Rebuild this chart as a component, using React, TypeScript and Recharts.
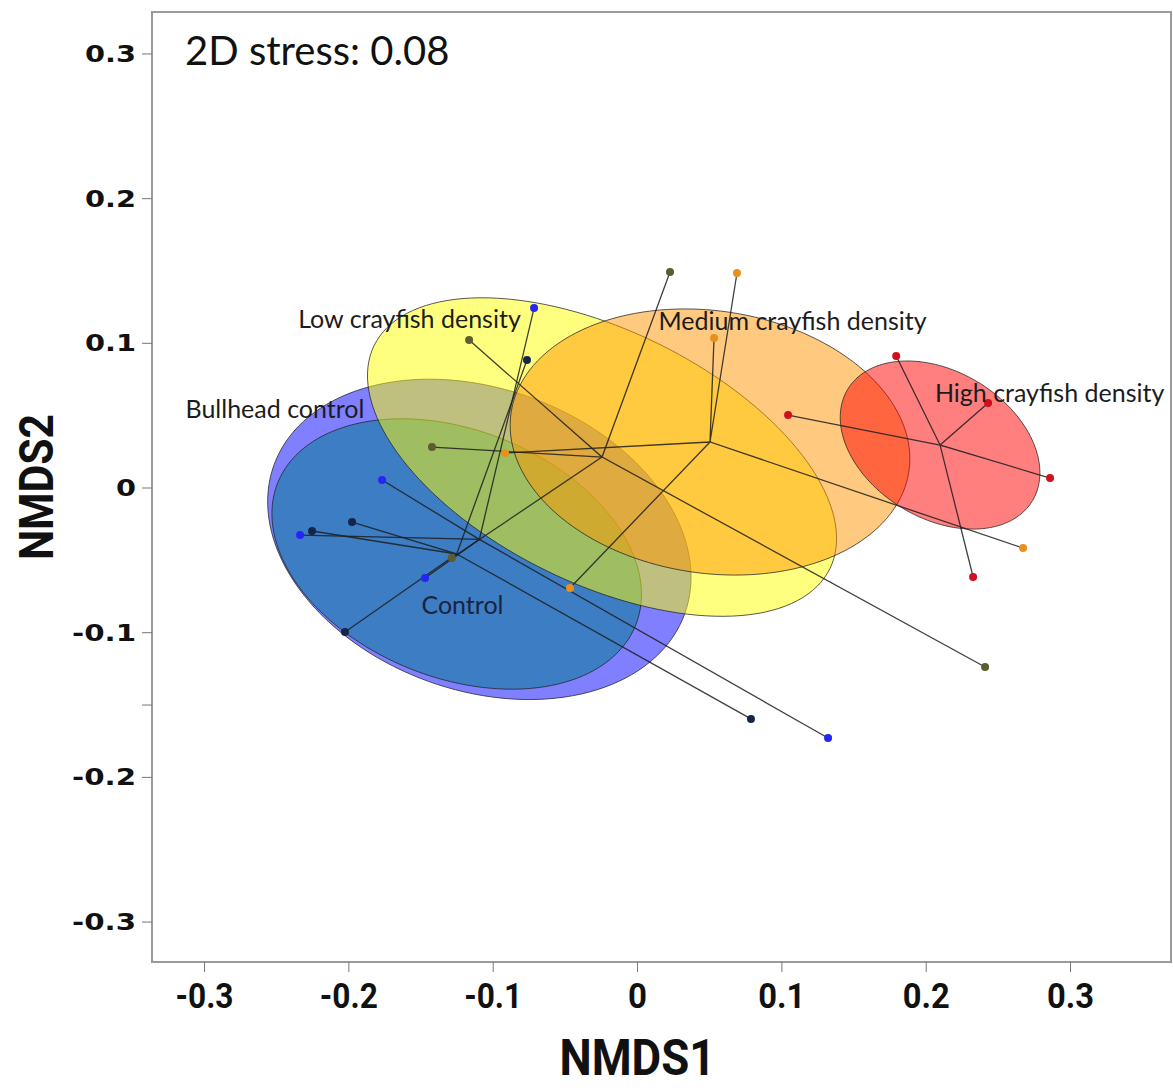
import { ScatterChart, Scatter, XAxis, YAxis, ReferenceArea } from "recharts";

// NMDS site scores per treatment
const GROUPS = [
  "Control",
  "Bullhead control",
  "Low crayfish density",
  "Medium crayfish density",
  "High crayfish density",
];

const CONTROL_PTS = [
  [-0.0766, 0.0885],
  [-0.1978, -0.0235],
  [-0.2255, -0.0297],
  [-0.2027, -0.0995],
  [0.0786, -0.1596],
];
const BULLHEAD_PTS = [
  [-0.0717, 0.1244],
  [-0.177, 0.0055],
  [-0.2338, -0.0325],
  [-0.1472, -0.0622],
  [0.132, -0.1728],
];
const LOW_PTS = [
  [0.0225, 0.1493],
  [-0.1167, 0.1023],
  [-0.1424, 0.0283],
  [0.2408, -0.1237],
  [-0.1287, -0.0484],
];
const MEDIUM_PTS = [
  [0.0689, 0.1486],
  [0.053, 0.1037],
  [-0.0918, 0.0242],
  [-0.0468, -0.0691],
  [0.2671, -0.0415],
];
const HIGH_PTS = [
  [0.1792, 0.0912],
  [0.1043, 0.0504],
  [0.2429, 0.0587],
  [0.2858, 0.0069],
  [0.2325, -0.0615],
];
const SITES = [CONTROL_PTS, BULLHEAD_PTS, LOW_PTS, MEDIUM_PTS, HIGH_PTS];

// group centres (spider hubs / ellipse centres)
const CENTROIDS = [
  [-0.1253, -0.0456],
  [-0.1096, -0.0355],
  [-0.0246, 0.0214],
  [0.0502, 0.0318],
  [0.2096, 0.0297],
];

// ellipse semi-axes and rotation (deg)
const ELLIPSES = [
  [0.1334, 0.0856, -21.5],
  [0.1513, 0.1043, -19.8],
  [0.1757, 0.0875, -26],
  [0.1393, 0.0907, -8.3],
  [0.0747, 0.0508, -31],
];

const LABEL_POS = [
  [-0.1213, -0.0802],
  [-0.2512, 0.0553],
  [-0.158, 0.1175],
  [0.1074, 0.116],
  [0.2855, 0.0663],
];

const FILLS = ["#1f7ca9", "#0000ff", "#ffff00", "#ff9600", "#ff0000"];
const FILL_OPACITY = [0.7, 0.5, 0.5, 0.5, 0.5];
const DOT_COLORS = ["#15254a", "#2525f5", "#5c5c2e", "#e8901a", "#d01020"];
const DRAW_ORDER = [1, 0, 2, 3, 4];

const X_TICKS = [-0.3, -0.2, -0.1, 0, 0.1, 0.2, 0.3];
const Y_TICKS = [-0.3, -0.2, -0.15, -0.1, 0, 0.1, 0.2, 0.3];
const X_DOMAIN = [-0.3364, 0.3696];
const Y_DOMAIN = [-0.3276, 0.329];

const STRESS = { text: "2D stress: 0.08", x: -0.3135, y: 0.3027 };

function ellipsePoints(c: number[], e: number[]) {
  const phi = (e[2] * Math.PI) / 180;
  const pts = [];
  for (let i = 0; i < 144; i++) {
    const t = (i / 144) * 2 * Math.PI;
    pts.push({
      x: c[0] + e[0] * Math.cos(t) * Math.cos(phi) - e[1] * Math.sin(t) * Math.sin(phi),
      y: c[1] + e[0] * Math.cos(t) * Math.sin(phi) + e[1] * Math.sin(t) * Math.cos(phi),
    });
  }
  return pts;
}

function spokes(c: number[], pts: number[][]) {
  return pts.flatMap((p) => [
    { x: c[0], y: c[1] },
    { x: p[0], y: p[1] },
  ]);
}

const Empty = () => <g />;

const Y_CHAR_W: Record<string, number> = { "-": 13, ".": 11 };
const X_CHAR_W: Record<string, number> = { "-": 11, ".": 9 };

function YTick({ x, y, payload }: any) {
  const v = payload.value;
  if (v === -0.15) return <g />;
  const s = String(v);
  const w = [...s].reduce((sum, ch) => sum + (Y_CHAR_W[ch] ?? 20), 0);
  return (
    <text
      x={x}
      y={y}
      textAnchor="end"
      dominantBaseline="central"
      fontFamily="DejaVu Sans"
      fontWeight="bold"
      fontSize={23}
      fill="#111"
      textLength={w}
      lengthAdjust="spacingAndGlyphs"
    >
      {s}
    </text>
  );
}

function XTick({ x, y, payload }: any) {
  const s = String(payload.value);
  const w = [...s].reduce((sum, ch) => sum + (X_CHAR_W[ch] ?? 19), 0);
  return (
    <text
      x={x}
      y={y + 14}
      textAnchor="middle"
      dominantBaseline="central"
      fontFamily="Roboto"
      fontWeight="bold"
      fontSize={35}
      fill="#111"
      textLength={w}
      lengthAdjust="spacingAndGlyphs"
    >
      {s}
    </text>
  );
}

export default function App() {
  const labelData = GROUPS.map((g, i) => ({
    x: LABEL_POS[i][0],
    y: LABEL_POS[i][1],
    text: g,
    color: i === 0 ? "#1a2340" : "#1c1c1c",
  }));

  return (
    <div style={{ position: "absolute", left: 0, top: 0, background: "#fff" }}>
      <ScatterChart
        width={1173}
        height={1091}
        margin={{ top: 12, right: 2, bottom: 0, left: 0 }}
      >
        <XAxis
          type="number"
          dataKey="x"
          domain={X_DOMAIN}
          allowDataOverflow
          ticks={X_TICKS}
          height={129}
          tickSize={10}
          tickMargin={10}
          axisLine={{ stroke: "#9a9a9a", strokeWidth: 2 }}
          tickLine={{ stroke: "#777" }}
          tick={<XTick />}
          label={{
            content: ({ viewBox }: any) => (
              <text
                x={viewBox.x + viewBox.width / 2 - 24}
                y={viewBox.y + 96}
                textAnchor="middle"
                dominantBaseline="central"
                fontFamily="Roboto"
                fontWeight="bold"
                fontSize={50}
                fill="#111"
                textLength={156}
                lengthAdjust="spacingAndGlyphs"
              >
                NMDS1
              </text>
            ),
          }}
        />
        <YAxis
          type="number"
          dataKey="y"
          domain={Y_DOMAIN}
          allowDataOverflow
          ticks={Y_TICKS}
          width={152}
          tickSize={10}
          tickMargin={6}
          axisLine={{ stroke: "#9a9a9a", strokeWidth: 2 }}
          tickLine={{ stroke: "#777" }}
          tick={<YTick />}
          label={{
            content: ({ viewBox }: any) => (
              <text
                x={36}
                y={viewBox.y + viewBox.height / 2}
                transform={`rotate(-90 36 ${viewBox.y + viewBox.height / 2})`}
                textAnchor="middle"
                dominantBaseline="central"
                fontFamily="Roboto"
                fontWeight="bold"
                fontSize={48}
                fill="#111"
                textLength={146}
                lengthAdjust="spacingAndGlyphs"
              >
                NMDS2
              </text>
            ),
          }}
        />

        {DRAW_ORDER.map((i) => (
          <Scatter
            key={"ell" + i}
            data={ellipsePoints(CENTROIDS[i], ELLIPSES[i])}
            shape={Empty}
            line={{
              fill: FILLS[i],
              fillOpacity: FILL_OPACITY[i],
              stroke: "#222",
              strokeOpacity: 0.75,
              strokeWidth: 1,
            }}
            lineJointType="linearClosed"
            isAnimationActive={false}
          />
        ))}

        {DRAW_ORDER.map((i) => (
          <Scatter
            key={"spk" + i}
            data={spokes(CENTROIDS[i], SITES[i])}
            shape={Empty}
            line={{ stroke: "#1e1e1e", strokeWidth: 1.3, strokeOpacity: 0.85 }}
            lineJointType="linear"
            isAnimationActive={false}
          />
        ))}

        {DRAW_ORDER.map((i) => (
          <Scatter
            key={"pts" + i}
            data={SITES[i].map((p) => ({ x: p[0], y: p[1] }))}
            shape={(p: any) => <circle cx={p.cx} cy={p.cy} r={4} fill={DOT_COLORS[i]} />}
            isAnimationActive={false}
          />
        ))}

        <Scatter
          data={labelData}
          isAnimationActive={false}
          shape={(p: any) => (
            <text
              x={p.cx}
              y={p.cy}
              textAnchor="middle"
              dominantBaseline="central"
              fontFamily="Lato"
              fontSize={25}
              fill={p.payload.color}
            >
              {p.payload.text}
            </text>
          )}
        />

        <Scatter
          data={[STRESS]}
          isAnimationActive={false}
          shape={(p: any) => (
            <text
              x={p.cx}
              y={p.cy}
              textAnchor="start"
              dominantBaseline="central"
              fontFamily="Lato"
              fontSize={40}
              fill="#111"
            >
              {p.payload.text}
            </text>
          )}
        />

        <ReferenceArea
          x1={X_DOMAIN[0]}
          x2={X_DOMAIN[1]}
          y1={Y_DOMAIN[0]}
          y2={Y_DOMAIN[1]}
          fill="none"
          stroke="#9a9a9a"
          strokeWidth={2}
        />
      </ScatterChart>
    </div>
  );
}
